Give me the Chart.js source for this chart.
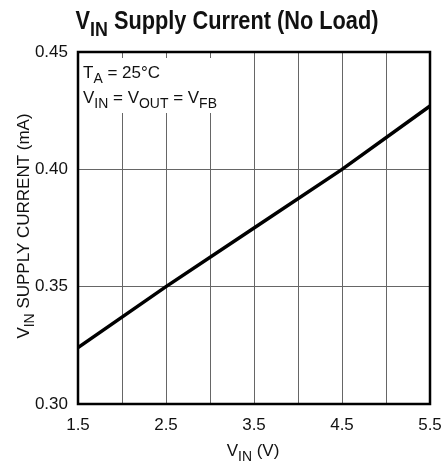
<!DOCTYPE html>
<html>
<head>
<meta charset="utf-8">
<script src="https://cdn.jsdelivr.net/npm/chart.js@4"></script>
<style>
  html, body { margin: 0; padding: 0; background: #fff; }
</style>
</head>
<body>
<canvas id="chart" width="445" height="462"></canvas>
<script>
// data
const vin = [1.5, 2.5, 3.5, 4.5, 5.5];
const supplyCurrent = [0.324, 0.350, 0.375, 0.400, 0.427];
const xTickLabels = ['1.5', '2.5', '3.5', '4.5', '5.5'];
const yTickLabels = ['0.30', '0.35', '0.40', '0.45'];

// text pieces, second item = subscript
const titleParts = [['V', 0], ['IN', 1], [' Supply Current (No Load)', 0]];
const xTitleParts = [['V', 0], ['IN', 1], [' (V)', 0]];
const yTitleParts = [['V', 0], ['IN', 1], [' SUPPLY CURRENT (mA)', 0]];
const noteLines = [
  [['T', 0], ['A', 1], [' = 25°C', 0]],
  [['V', 0], ['IN', 1], [' = V', 0], ['OUT', 1], [' = V', 0], ['FB', 1]]
];

const FAM = '"Liberation Sans", Arial, sans-serif';

function font(size, bold) {
  return (bold ? 'bold ' : '') + size + 'px ' + FAM;
}

function partsWidth(ctx, parts, size, bold) {
  let w = 0;
  parts.forEach(p => {
    ctx.font = font(p[1] ? size * 0.82 : size, bold);
    w += ctx.measureText(p[0]).width;
  });
  return w;
}

function drawParts(ctx, parts, x, y, size, bold) {
  ctx.textAlign = 'left';
  ctx.textBaseline = 'alphabetic';
  parts.forEach(p => {
    const s = p[1] ? size * 0.82 : size;
    ctx.font = font(s, bold);
    ctx.fillText(p[0], x, p[1] ? y + size * 0.28 : y);
    x += ctx.measureText(p[0]).width;
  });
}

const textPlugin = {
  id: 'textPlugin',
  beforeDatasetsDraw(chart) {
    const ctx = chart.ctx;
    ctx.save();
    ctx.fillStyle = '#fff';
    ctx.fillRect(80, 58, 150, 55);
    ctx.fillStyle = '#111';
    drawParts(ctx, noteLines[0], 83, 78, 17, false);
    drawParts(ctx, noteLines[1], 83, 103, 17, false);
    ctx.restore();
  },
  afterDraw(chart) {
    const ctx = chart.ctx;
    const a = chart.chartArea;
    ctx.save();
    ctx.strokeStyle = '#000';
    ctx.lineWidth = 2.5;
    ctx.strokeRect(a.left, a.top, a.right - a.left, a.bottom - a.top);

    ctx.fillStyle = '#111';
    // title, squeezed a bit to look condensed
    const tw = partsWidth(ctx, titleParts, 25, true);
    ctx.save();
    ctx.translate(227, 29);
    ctx.scale(0.87, 1);
    drawParts(ctx, titleParts, -tw / 2, 0, 25, true);
    ctx.restore();

    // x axis title
    const xw = partsWidth(ctx, xTitleParts, 17, false);
    drawParts(ctx, xTitleParts, 253 - xw / 2, 456, 17, false);

    // y axis title
    const yw = partsWidth(ctx, yTitleParts, 17, false);
    ctx.save();
    ctx.translate(29, 226);
    ctx.rotate(-Math.PI / 2);
    drawParts(ctx, yTitleParts, -yw / 2, 0, 17, false);
    ctx.restore();
    ctx.restore();
  }
};

new Chart(document.getElementById('chart'), {
  type: 'line',
  data: {
    datasets: [{
      data: vin.map((v, i) => ({ x: v, y: supplyCurrent[i] })),
      borderColor: '#000',
      borderWidth: 3.5,
      pointRadius: 0,
      tension: 0,
      fill: false
    }]
  },
  options: {
    responsive: false,
    animation: false,
    layout: { padding: { left: 0, right: 15, top: 52, bottom: 0 } },
    plugins: { legend: { display: false }, tooltip: { enabled: false } },
    scales: {
      x: {
        type: 'linear',
        min: 1.5,
        max: 5.5,
        afterFit(scale) { scale.height = 58; },
        // invisible ticks push the labels down without widening the side padding
        grid: { color: '#666', lineWidth: 1, drawTicks: true, tickLength: 11, tickColor: 'rgba(0,0,0,0)' },
        border: { display: false },
        ticks: {
          stepSize: 0.5,
          padding: 0,
          color: '#111',
          font: { family: FAM, size: 17 },
          maxRotation: 0,
          autoSkip: false,
          callback: v => {
            const s = v.toFixed(1);
            return xTickLabels.includes(s) ? s : '';
          }
        }
      },
      y: {
        min: 0.3,
        max: 0.45,
        afterFit(scale) { scale.width = 78; },
        grid: { color: '#666', lineWidth: 1, drawTicks: false },
        border: { display: false },
        ticks: {
          stepSize: 0.05,
          padding: 10,
          color: '#111',
          font: { family: FAM, size: 17 },
          autoSkip: false,
          callback: v => {
            const s = v.toFixed(2);
            return yTickLabels.includes(s) ? s : '';
          }
        }
      }
    }
  },
  plugins: [textPlugin]
});
</script>
</body>
</html>
